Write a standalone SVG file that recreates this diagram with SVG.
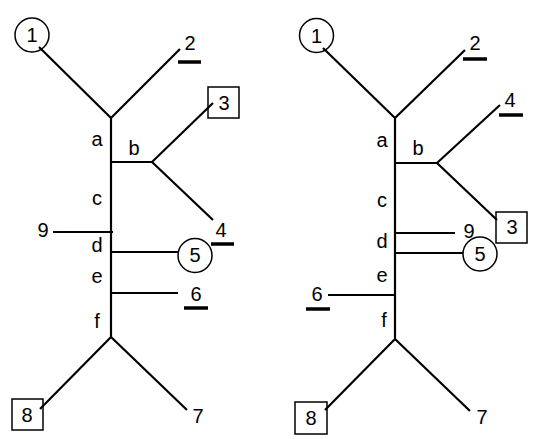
<svg xmlns="http://www.w3.org/2000/svg" width="538" height="439" viewBox="0 0 538 439">
<style>
.e{stroke:#000;stroke-width:2.2;fill:none;stroke-linecap:butt}
.s{stroke:#000;stroke-width:1.5;fill:none}
.u{stroke:#000;stroke-width:3.5}
text{font-family:"Liberation Sans",Arial,sans-serif;font-size:20px;fill:#000;text-anchor:middle}
</style>
<rect width="538" height="439" fill="#fff"/>
<g id="connectors">
<path class="e" d="M39,47 L111,118 L180,49 M111,118 V337 M111,162 H152 L213,103 M152,162 L213,220 M53,232 H113 M111,252 H178 M111,293 H178 M40,409 L111,337 L187,410"/>
<path class="e" d="M323,48 L395,118 L465,50 M395,118 V339 M395,163 H437 L500,105 M437,163 L497,220 M395,233 H455 M395,253 H463 M328,295 H395 M325,410 L395,339 L470,411"/>
</g>
<g id="L1"><circle class="s" cx="32" cy="35" r="17"/><text x="32" y="42">1</text></g>
<g id="L2"><text x="190" y="50">2</text><line class="u" x1="178" y1="62" x2="201" y2="62"/></g>
<g id="L3"><rect class="s" x="208" y="87" width="31" height="31"/><text x="224" y="110">3</text></g>
<g id="L4"><text x="221" y="237">4</text><line class="u" x1="211" y1="244" x2="234" y2="244"/></g>
<g id="L5"><circle class="s" cx="195" cy="255.5" r="17"/><text x="195" y="262">5</text></g>
<g id="L6"><text x="196" y="301">6</text><line class="u" x1="184" y1="308" x2="208" y2="308"/></g>
<g id="L7"><text x="198" y="423">7</text></g>
<g id="L8"><rect class="s" x="12" y="399" width="31" height="31"/><text x="27" y="422">8</text></g>
<g id="L9"><text x="43" y="237">9</text></g>
<g id="Llabels"><text x="97" y="146">a</text><text x="134" y="155">b</text><text x="97" y="205">c</text><text x="97" y="252">d</text><text x="97" y="283">e</text><text x="97" y="328">f</text></g>
<g id="R1"><circle class="s" cx="316.5" cy="35.5" r="17"/><text x="316.5" y="42.5">1</text></g>
<g id="R2"><text x="475" y="50">2</text><line class="u" x1="463" y1="59" x2="487" y2="59"/></g>
<g id="R4"><text x="510" y="107">4</text><line class="u" x1="499" y1="115" x2="523" y2="115"/></g>
<g id="R3"><rect class="s" x="496" y="212" width="31" height="31"/><text x="512" y="234">3</text></g>
<g id="R9"><text x="469" y="238">9</text></g>
<g id="R5"><circle class="s" cx="480" cy="254" r="17"/><text x="480" y="261">5</text></g>
<g id="R6"><text x="317" y="301">6</text><line class="u" x1="306" y1="309" x2="330" y2="309"/></g>
<g id="R7"><text x="482" y="424">7</text></g>
<g id="R8"><rect class="s" x="295" y="402" width="32" height="32"/><text x="311" y="425">8</text></g>
<g id="Rlabels"><text x="382" y="147">a</text><text x="418" y="155">b</text><text x="382" y="207">c</text><text x="382" y="248">d</text><text x="382" y="282">e</text><text x="384" y="327">f</text></g>
</svg>
